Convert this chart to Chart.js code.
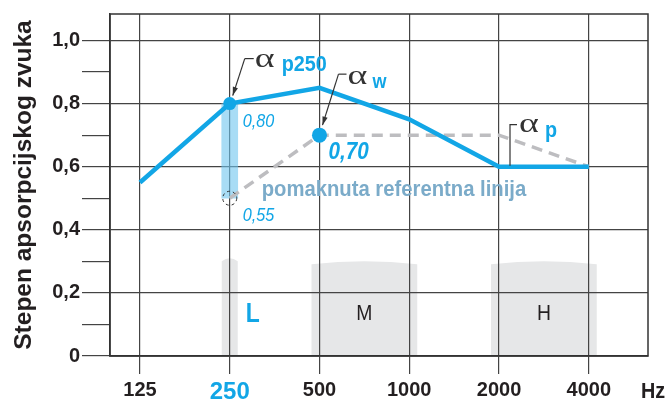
<!DOCTYPE html>
<html>
<head>
  <meta charset="UTF-8">
  <title>Stepen apsorpcijskog zvuka</title>
  <script src="https://cdn.jsdelivr.net/npm/chart.js"></script>
</head>
<body style="margin:0;background:#fff">
  <canvas id="chart" width="669" height="405"></canvas>
  <script>
    // values
    const freqLabels = ['125', '250', '500', '1000', '2000', '4000'];
    const measured = [0.55, 0.80, 0.85, 0.75, 0.60, 0.60];
    const reference = [null, 0.50, 0.70, 0.70, 0.70, 0.60];
    const alphaWIndex = 2;
    const alphaW = 0.70;
    const p250Index = 1;
    const yTicks = [0, 0.1, 0.2, 0.3, 0.4, 0.5, 0.6, 0.7, 0.8, 0.9, 1.0];
    const yLabels = ['0', '', '0,2', '', '0,4', '', '0,6', '', '0,8', '', '1,0'];
    const bandNames = ['L', 'M', 'H'];
    const bandFrom = [1, 2, 4];
    const bandTo = [1, 3, 5];
    const bandTop = [0.31, 0.30, 0.30];

    const BLUE = '#12a6e6';
    const GREY = '#bdbdc0';
    const DARK = '#231f20';
    const SANS = "'Liberation Sans', Arial, sans-serif";

    function arrow(ctx, x1, y1, x2, y2) {
      ctx.beginPath();
      ctx.moveTo(x1, y1);
      ctx.lineTo(x2, y2);
      ctx.stroke();
      const a = Math.atan2(y2 - y1, x2 - x1);
      ctx.beginPath();
      ctx.moveTo(x2, y2);
      ctx.lineTo(x2 - 9 * Math.cos(a - 0.3), y2 - 9 * Math.sin(a - 0.3));
      ctx.lineTo(x2 - 9 * Math.cos(a + 0.3), y2 - 9 * Math.sin(a + 0.3));
      ctx.closePath();
      ctx.fill();
    }

    // text drawn slightly condensed, like the reference's narrow face
    function text(ctx, s, x, y, font, color, align, sx) {
      ctx.save();
      ctx.translate(x, y);
      ctx.scale(sx || 0.9, 1);
      ctx.font = font;
      ctx.fillStyle = color;
      ctx.textAlign = align || 'left';
      ctx.textBaseline = 'alphabetic';
      ctx.fillText(s, 0, 0);
      ctx.restore();
    }

    // wide thin alpha like the reference's symbol glyph
    function alpha(ctx, x, y) {
      text(ctx, 'α', x, y, '27px "Liberation Serif", serif', '#333', 'left', 1.4);
    }

    const decor = {
      id: 'decor',
      beforeDraw(chart) {
        const ctx = chart.ctx, xs = chart.scales.x, ys = chart.scales.y;
        ctx.save();
        ctx.fillStyle = '#fff';
        ctx.fillRect(0, 0, chart.width, chart.height);
        ctx.fillStyle = '#e6e7e8';
        bandNames.forEach((n, i) => {
          const x0 = xs.getPixelForValue(bandFrom[i]) - 8;
          const x1 = xs.getPixelForValue(bandTo[i]) + 8;
          const yt = ys.getPixelForValue(bandTop[i]);
          const yb = ys.getPixelForValue(0);
          ctx.beginPath();
          ctx.moveTo(x0, yb);
          ctx.lineTo(x0, yt + 3);
          ctx.quadraticCurveTo((x0 + x1) / 2, yt - 3, x1, yt + 3);
          ctx.lineTo(x1, yb);
          ctx.closePath();
          ctx.fill();
        });
        ctx.restore();
      },
      afterDraw(chart) {
        const ctx = chart.ctx, xs = chart.scales.x, ys = chart.scales.y;
        const a = chart.chartArea;
        ctx.save();
        ctx.strokeStyle = '#333';
        ctx.lineWidth = 1.5;
        ctx.strokeRect(a.left, a.top, a.right - a.left, a.bottom - a.top);

        // band labels
        bandNames.forEach((n, i) => {
          const cx = (xs.getPixelForValue(bandFrom[i]) + xs.getPixelForValue(bandTo[i])) / 2;
          const y = ys.getPixelForValue(0.14);
          if (n === 'L') text(ctx, n, cx + 23, y + 10, 'bold 27px ' + SANS, BLUE, 'center', 0.85);
          else text(ctx, n, cx, y + 8, '22px ' + SANS, DARK, 'center', 0.88);
        });

        // dashed circle on shifted reference at 250 Hz
        const rx = xs.getPixelForValue(p250Index), ry = ys.getPixelForValue(reference[p250Index]);
        ctx.setLineDash([3, 3]);
        ctx.lineWidth = 1;
        ctx.strokeStyle = '#333';
        ctx.beginPath();
        ctx.arc(rx, ry, 7, 0, Math.PI * 2);
        ctx.stroke();
        ctx.setLineDash([]);

        ctx.strokeStyle = '#333';
        ctx.fillStyle = '#333';
        ctx.lineWidth = 1.2;

        // alpha p250
        const px = xs.getPixelForValue(p250Index), py = ys.getPixelForValue(measured[p250Index]);
        ctx.beginPath();
        ctx.moveTo(px + 24, py - 45);
        ctx.lineTo(px + 15, py - 45);
        ctx.stroke();
        arrow(ctx, px + 15, py - 45, px + 3, py - 8);
        alpha(ctx, px + 25, py - 37);
        text(ctx, 'p250', px + 52, py - 33, 'bold 22px ' + SANS, BLUE);
        text(ctx, '0,80', px + 13, py + 23, 'italic 18px ' + SANS, BLUE);
        text(ctx, '0,55', rx + 13, ry + 23, 'italic 18px ' + SANS, BLUE);
        text(ctx, 'pomaknuta referentna linija', rx + 32, ry - 2, 'bold 22.5px ' + SANS, '#7babc9');

        // alpha w
        const qx = xs.getPixelForValue(alphaWIndex), qy = ys.getPixelForValue(alphaW);
        ctx.strokeStyle = '#333';
        ctx.fillStyle = '#333';
        ctx.beginPath();
        ctx.moveTo(qx + 27, qy - 61);
        ctx.lineTo(qx + 19, qy - 61);
        ctx.stroke();
        arrow(ctx, qx + 19, qy - 61, qx + 3, qy - 10);
        alpha(ctx, qx + 28, qy - 51);
        text(ctx, 'w', qx + 53, qy - 47, 'bold 20px ' + SANS, BLUE);
        text(ctx, '0,70', qx + 9, qy + 24, 'bold italic 23px ' + SANS, BLUE);

        // alpha p
        const sx = xs.getPixelForValue(4), sy = ys.getPixelForValue(measured[4]);
        ctx.strokeStyle = '#333';
        ctx.beginPath();
        ctx.moveTo(sx + 11, sy - 1);
        ctx.lineTo(sx + 11, sy - 42);
        ctx.lineTo(sx + 18, sy - 42);
        ctx.stroke();
        alpha(ctx, sx + 20, sy - 35);
        text(ctx, 'p', sx + 46, sy - 30, 'bold 22px ' + SANS, BLUE);

        // unit
        text(ctx, 'Hz', a.right + 5, 398, 'bold 22px ' + SANS, DARK, 'center');
        ctx.restore();
      }
    };

    const ctx = document.getElementById('chart').getContext('2d');
    new Chart(ctx, {
      type: 'line',
      data: {
        datasets: [
          {
            type: 'bar',
            data: [{ x: p250Index, y: [reference[p250Index], measured[p250Index]] }],
            backgroundColor: 'rgba(110,196,238,0.6)',
            barThickness: 16,
            order: 5
          },
          {
            data: reference.map((v, i) => ({ x: i, y: v })),
            borderColor: GREY,
            borderWidth: 3.5,
            borderDash: [11, 7],
            pointRadius: 0,
            order: 4
          },
          {
            data: measured.map((v, i) => ({ x: i, y: v })),
            borderColor: BLUE,
            borderWidth: 4.5,
            pointRadius: c => (c.dataIndex === p250Index ? 6.5 : 0),
            pointBackgroundColor: BLUE,
            pointBorderWidth: 0,
            order: 2
          },
          {
            data: [{ x: alphaWIndex, y: alphaW }],
            showLine: false,
            pointRadius: 7.5,
            pointBackgroundColor: BLUE,
            pointBorderWidth: 0,
            order: 1
          }
        ]
      },
      options: {
        responsive: false,
        animation: false,
        layout: { padding: { top: 12, right: 21, left: 0, bottom: 0 } },
        plugins: { legend: { display: false }, tooltip: { enabled: false } },
        scales: {
          x: {
            type: 'linear',
            min: -0.334,
            max: 5.66,
            offset: false,
            afterBuildTicks: s => { s.ticks = freqLabels.map((l, i) => ({ value: i })); },
            afterFit: s => { s.height = 49; },
            grid: { color: '#444', lineWidth: 1.2, tickLength: 18, tickColor: '#444', offset: false },
            border: { color: '#333', width: 1.5 },
            ticks: {
              autoSkip: false,
              maxRotation: 0,
              padding: 4,
              callback: v => freqLabels[v],
              color: c => (c.index === p250Index ? BLUE : DARK),
              font: c => (c.index === p250Index
                ? { family: SANS, size: 24, weight: 'bold' }
                : { family: SANS, size: 20, weight: 'bold' })
            }
          },
          y: {
            min: 0,
            max: 1.084,
            afterBuildTicks: s => { s.ticks = yTicks.map(v => ({ value: v })); },
            afterFit: s => { s.width = 110; },
            grid: {
              color: c => (c.index % 2 === 0 ? '#444' : 'transparent'),
              lineWidth: 1.2,
              tickLength: 28,
              tickColor: '#444'
            },
            border: { color: '#333', width: 1.5 },
            ticks: {
              padding: 2,
              color: DARK,
              font: { family: SANS, size: 20, weight: 'bold' },
              callback: (v, i) => yLabels[i]
            },
            title: {
              display: true,
              text: 'Stepen apsorpcijskog zvuka',
              color: DARK,
              font: { family: SANS, size: 24.5, weight: 'bold' },
              padding: { top: 10, bottom: 0 }
            }
          }
        }
      },
      plugins: [decor]
    });
  </script>
</body>
</html>
